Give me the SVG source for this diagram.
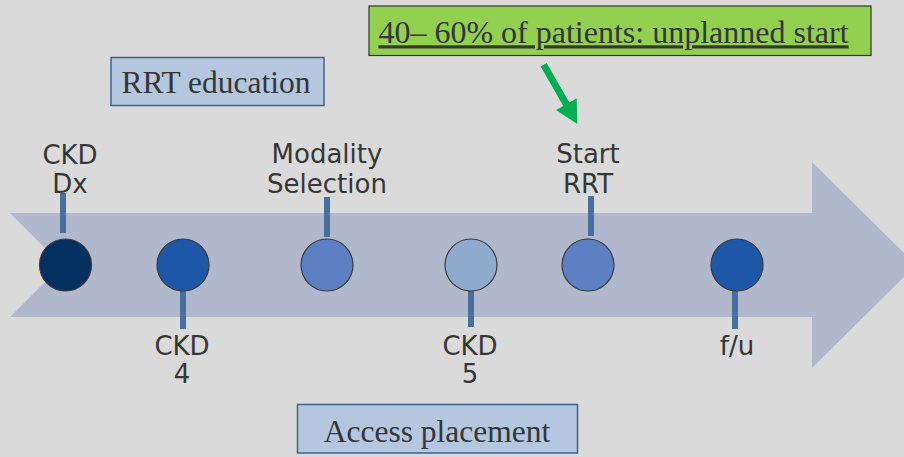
<svg xmlns="http://www.w3.org/2000/svg" width="904" height="457" viewBox="0 0 904 457">
<style>
.lbl{font-family:"DejaVu Sans",Verdana,sans-serif;font-size:26px;fill:#363636;text-anchor:middle}
.ser{font-family:"Liberation Serif","Times New Roman",serif;fill:#363636;text-anchor:middle}
.dot{stroke:#3a3a3a;stroke-width:1.2}
.stem{stroke:#4570a0;stroke-width:6;fill:none}
.box{fill:#b4c7de;stroke:#41618e;stroke-width:1.5}
</style>
<rect x="0" y="0" width="904" height="457" fill="#dadada"/>
<polygon id="timeline" points="10,213 812,213 812,162 916,265 812,368 812,317 10,317 62,265" fill="#b2b8cc"/>
<g id="connectors">
<line class="stem" x1="63" y1="193" x2="63" y2="233"/>
<line class="stem" x1="183" y1="289" x2="183" y2="329"/>
<line class="stem" x1="327" y1="197" x2="327" y2="237"/>
<line class="stem" x1="471" y1="287" x2="471" y2="327"/>
<line class="stem" x1="591" y1="196" x2="591" y2="236"/>
<line class="stem" x1="735" y1="289" x2="735" y2="329"/>
<polygon points="546.7,63 569.3,102.5 576.7,98.3 577.3,124 556,110.1 563.3,105.9 540.7,66.4" fill="#00b050"/>
</g>
<g id="ckd-dx"><circle class="dot" cx="65.5" cy="265" r="26" fill="#03305e"/><text class="lbl" x="70" y="164">CKD</text><text class="lbl" x="70" y="193">Dx</text></g>
<g id="ckd-4"><circle class="dot" cx="183" cy="265" r="26" fill="#1e56a8"/><text class="lbl" x="182" y="355">CKD</text><text class="lbl" x="182" y="383">4</text></g>
<g id="modality"><circle class="dot" cx="327" cy="265" r="26" fill="#5d7fc3"/><text class="lbl" x="327" y="163">Modality</text><text class="lbl" x="327" y="193">Selection</text></g>
<g id="ckd-5"><circle class="dot" cx="471" cy="265" r="26" fill="#8eaacd"/><text class="lbl" x="470" y="355">CKD</text><text class="lbl" x="470" y="383">5</text></g>
<g id="start-rrt"><circle class="dot" cx="588" cy="265" r="26" fill="#5d7fc3"/><text class="lbl" x="588" y="163">Start</text><text class="lbl" x="588" y="193">RRT</text></g>
<g id="fu"><circle class="dot" cx="737" cy="265" r="26" fill="#1e56a8"/><text class="lbl" x="737" y="355">f/u</text></g>
<g id="rrt-education"><rect class="box" x="111" y="57.5" width="213" height="48"/><text class="ser" x="216" y="93" font-size="31.5">RRT education</text></g>
<g id="access-placement"><rect class="box" x="297.5" y="404.5" width="280" height="48.5"/><text class="ser" x="437" y="441.5" font-size="31.5">Access placement</text></g>
<g id="unplanned"><rect x="369" y="6" width="502" height="49.5" fill="#92d050" stroke="#333" stroke-width="1.2"/><text class="ser" x="613.5" y="43.3" font-size="32" text-decoration="underline">40– 60% of patients: unplanned start</text></g>
</svg>
